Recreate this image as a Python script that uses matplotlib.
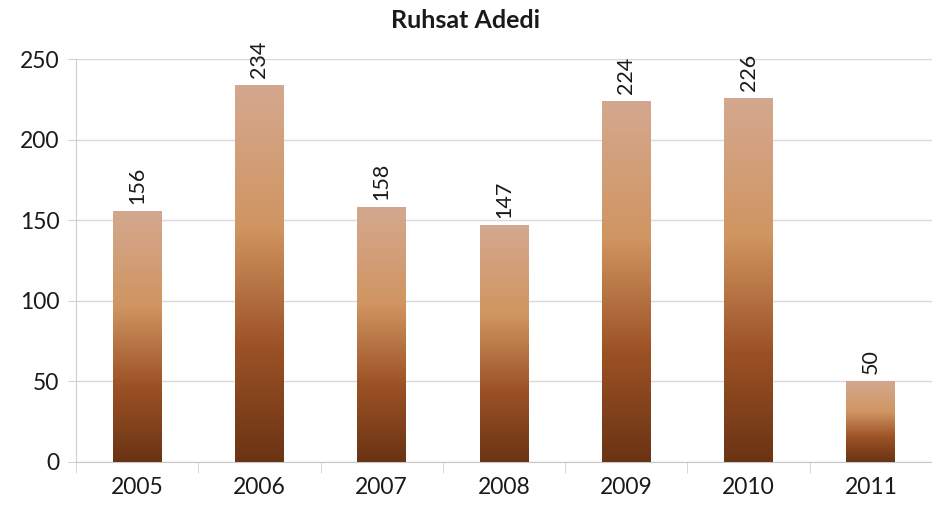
import numpy as np
import matplotlib
matplotlib.use("Agg")
import matplotlib.pyplot as plt
from matplotlib.colors import LinearSegmentedColormap

years = ["2005", "2006", "2007", "2008", "2009", "2010", "2011"]
counts = [156, 234, 158, 147, 224, 226, 50]
title = "Ruhsat Adedi"

plt.rcParams["font.family"] = ["Lato", "DejaVu Sans"]

fig = plt.figure(figsize=(9.32, 5.07), dpi=100)
ax = fig.add_axes([76 / 932, 45 / 507, 856 / 932, 403 / 507])

x = np.arange(len(years))
bars = ax.bar(x, counts, width=0.4, color="none", zorder=3)

# vertical copper gradient, light at the top and dark at the base of each bar
cmap = LinearSegmentedColormap.from_list(
    "copper_grad",
    [(0.0, "#6A3414"), (0.3, "#9C5125"), (0.62, "#D09561"), (1.0, "#D4A88F")],
)
grad = np.linspace(0, 1, 256).reshape(-1, 1)
for b in bars:
    x0, y0 = b.get_x(), b.get_y()
    w, h = b.get_width(), b.get_height()
    im = ax.imshow(grad, cmap=cmap, origin="lower", aspect="auto",
                   extent=(x0, x0 + w, y0, y0 + h), zorder=3)
    im.set_clip_path(b)

for xi, v in zip(x, counts):
    ax.annotate(str(v), (xi, v), xytext=(0, 5), textcoords="offset points",
                rotation=90, ha="center", va="bottom", fontsize=15.5,
                color="#1a1a1a")

ax.set_xlim(-0.5, len(years) - 0.5)
ax.set_ylim(0, 250)
ax.set_yticks(range(0, 251, 50))
ax.set_xticks(x)
ax.set_xticklabels(years)
ax.set_xticks(np.arange(-0.5, len(years), 1.0), minor=True)
ax.tick_params(axis="x", which="major", length=0, pad=11, labelsize=16.5,
               labelcolor="#1a1a1a")
ax.tick_params(axis="x", which="minor", length=8, color="#D0D0D0", direction="out")
ax.tick_params(axis="y", length=6, color="#D0D0D0", pad=6, labelsize=16.5,
               labelcolor="#1a1a1a")

ax.grid(axis="y", color="#D9D9D9", linewidth=1, zorder=0)
ax.set_axisbelow(True)
for side in ("top", "right"):
    ax.spines[side].set_visible(False)
ax.spines["left"].set_color("#D0D0D0")
ax.spines["bottom"].set_color("#C8C8C8")

fig.text(0.5, 1 - 20 / 507, title, ha="center", va="center",
         fontsize=18, fontweight="bold", color="#1a1a1a")

fig.savefig("out.png", dpi=100, facecolor="white")
